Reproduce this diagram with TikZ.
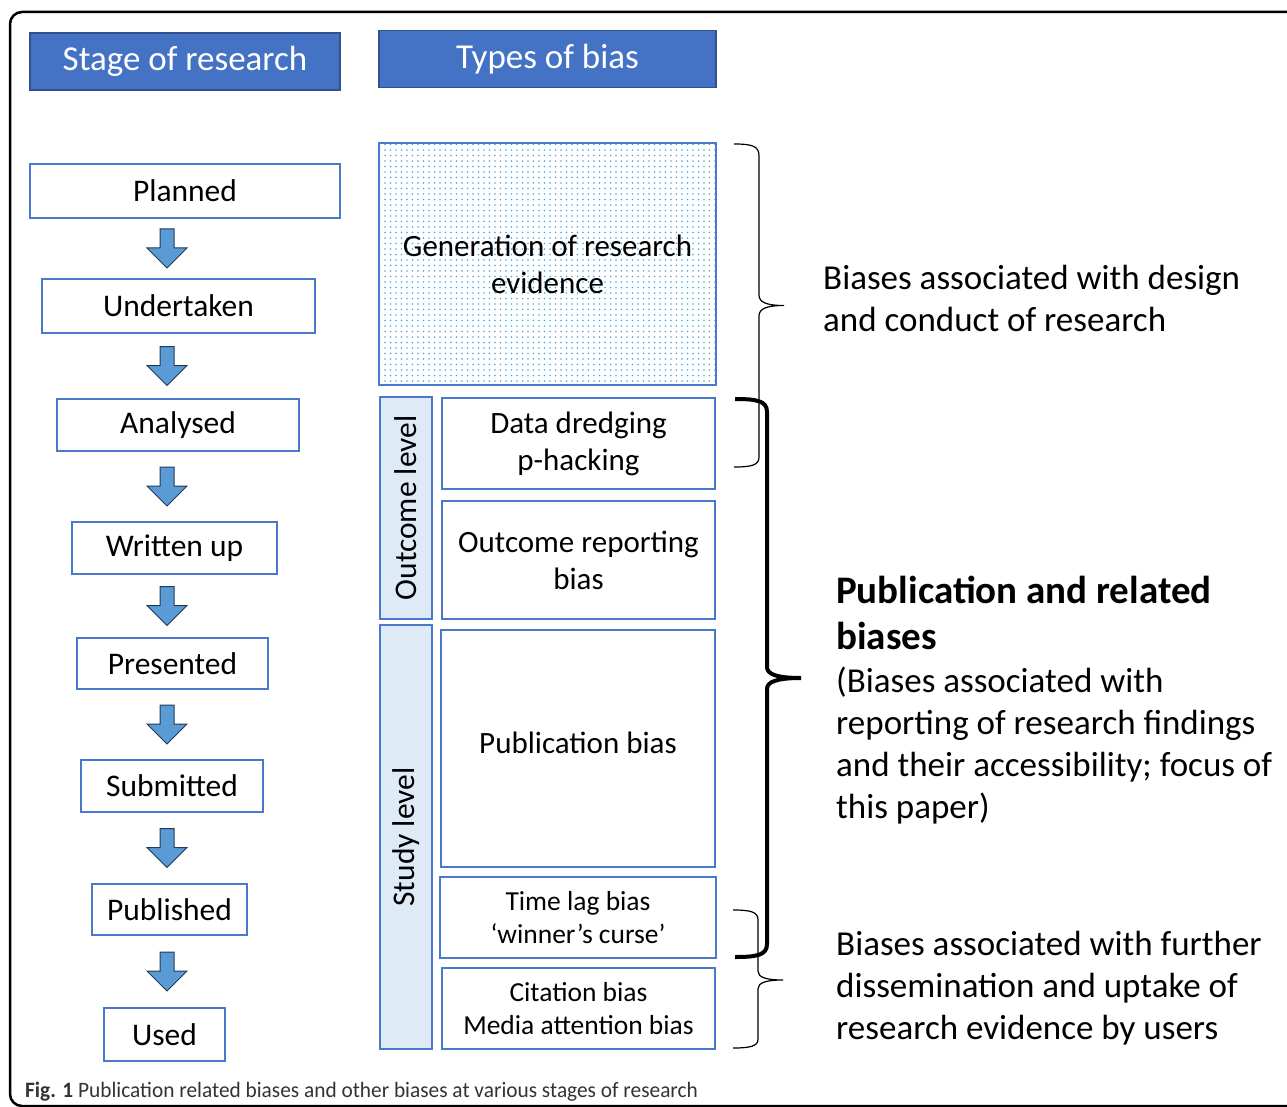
\documentclass[tikz,border=0pt]{standalone}
\usepackage{fontspec}
\setmainfont{Carlito}
\usetikzlibrary{patterns.meta,calc}
\definecolor{hdrfill}{HTML}{4472C4}
\definecolor{hdrborder}{HTML}{2F528F}
\definecolor{boxblue}{HTML}{4A78CC}
\definecolor{stripfill}{HTML}{DEEBF7}
\definecolor{arrfill}{HTML}{5B9BD5}
\definecolor{arrborder}{HTML}{233A55}
\definecolor{dotblue}{RGB}{70,170,230}
\definecolor{captext}{HTML}{333333}
\begin{document}
\begin{tikzpicture}[x=1pt,y=-1pt,
  wh/.style 2 args={minimum width=#1, minimum height=#2},
  hdr/.style={draw=hdrborder, line width=1.5pt, fill=hdrfill, text=white,
    font=\fontsize{35}{40}\selectfont, inner sep=0pt},
  stagebox/.style={draw=boxblue, line width=2pt, fill=white,
    font=\fontsize{31.5}{36}\selectfont, inner sep=0pt},
  biasbox/.style={draw=boxblue, line width=2pt, fill=white, align=center,
    font=\fontsize{31}{37}\selectfont, inner sep=0pt},
  smallbias/.style={biasbox, font=\fontsize{27.5}{33}\selectfont},
  strip/.style={draw=boxblue, line width=2pt, fill=stripfill, inner sep=0pt},
  striplabel/.style={rotate=90, font=\fontsize{31.5}{34}\selectfont, inner sep=0pt},
  dotted box/.style={draw=boxblue, line width=2pt,
    preaction={fill=white}, pattern={Dots[distance=5.5pt, radius=0.95pt]},
    pattern color=dotblue},
  arrowbody/.style={draw=arrborder, line width=1pt, fill=arrfill},
  thinbrace/.style={draw=black, line width=1.2pt},
  thickbrace/.style={draw=black, line width=4pt},
  rtext/.style={align=left, inner sep=0pt, anchor=north west,
    font=\fontsize{35}{42}\selectfont},
  downarr/.pic={\path[arrowbody] (-7,-19.5) -- (7,-19.5) -- (7,-0.5) -- (20,-0.5)
    -- (0,19.5) -- (-20,-0.5) -- (-7,-0.5) -- cycle;}
]
\useasboundingbox (0,0) rectangle (1287,1107);
\begin{scope}
\clip (0,0) rectangle (1287,1107);
\draw[line width=2.5pt, rounded corners=12pt] (1330,12) -- (10,12) -- (10,1106) -- (1330,1106);
\end{scope}

% headers
\node[hdr, wh={310}{57}] (h1) at (185,61.5) {Stage of research};
\node[hdr, wh={337}{57}] (h2) at (547.5,59) {Types of bias};

% stages
\node[stagebox, wh={310}{54}] (planned) at (185,191) {Planned};
\node[stagebox, wh={273}{54}] (undertaken) at (178.5,306) {Undertaken};
\node[stagebox, wh={242}{52}] (analysed) at (178,425) {Analysed};
\node[stagebox, wh={205}{52}] (written) at (174.5,548) {Written up};
\node[stagebox, wh={191}{51}] (presented) at (172.5,663.5) {Presented};
\node[stagebox, wh={182}{52}] (submitted) at (172,786) {Submitted};
\node[stagebox, wh={155}{51}] (published) at (169.5,909.5) {Published};
\node[stagebox, wh={121}{53}] (used) at (164.5,1034.5) {Used};

% block arrows between stages
\coordinate (ax) at (167,0);
\coordinate (m1) at ($(planned.south)!0.5!(undertaken.north)$);
\coordinate (m2) at ($(undertaken.south)!0.5!(analysed.north)$);
\coordinate (m3) at ($(analysed.south)!0.5!(written.north)$);
\coordinate (m4) at ($(written.south)!0.5!(presented.north)$);
\coordinate (m5) at ($(presented.south)!0.5!(submitted.north)$);
\coordinate (m6) at ($(submitted.south)!0.5!(published.north)$);
\coordinate (m7) at ($(published.south)!0.5!(used.north)$);
\foreach \m in {m1,m2,m3,m4,m5,m6,m7} {\pic at (ax |- \m) {downarr};}

% types of bias
\node[dotted box, wh={337}{242}, align=center, inner sep=0pt,
  font=\fontsize{31}{37}\selectfont] (gen) at (547.5,264) {Generation of research\\evidence};
\node[strip, wh={52}{222}] (outcome) at (406,508) {};
\node[striplabel] (outlab) at (outcome.center) {Outcome level};
\node[strip, wh={52}{424}] (study) at (406,837) {};
\node[striplabel] (studylab) at (study.center) {Study level};
\node[biasbox, wh={273}{91}] (dredge) at (578.5,443.5) {Data dredging\\p-hacking};
\node[biasbox, wh={273}{118}] (orb) at (578.5,560) {Outcome reporting\\bias};
\node[biasbox, wh={274}{237}] (pub) at (578,748.5) {\raisebox{12pt}{Publication bias}};
\node[smallbias, wh={276}{81}] (lag) at (578,917.5) {Time lag bias\\‘winner’s curse’};
\node[smallbias, wh={273}{81}] (cite) at (578.5,1008.5) {Citation bias\\Media attention bias};

% braces
\draw[thinbrace] (734,144) .. controls (752,144) and (759,146) .. (759,156)
  -- (759,295) .. controls (759,302) and (766,305.5) .. (784,305.5)
  .. controls (766,305.5) and (759,309) .. (759,316)
  -- (759,457) .. controls (759,465) and (752,467) .. (734,467);
\draw[thickbrace] (735,399) .. controls (757,399) and (767,401) .. (767,412)
  -- (767,667) .. controls (767,674) and (776,678) .. (801,678)
  .. controls (776,678) and (767,682) .. (767,689)
  -- (767,944) .. controls (767,955) and (757,957) .. (735,957);
\draw[thinbrace] (733,910) .. controls (751,910) and (758,912) .. (758,920)
  -- (758,971) .. controls (758,977) and (765,980) .. (783,980)
  .. controls (765,980) and (758,983) .. (758,989)
  -- (758,1039) .. controls (758,1046) and (751,1048) .. (733,1048);

% right texts
\node[rtext] (design) at (823,265) {Biases associated with design\\and conduct of research};
\node[rtext, font=\fontsize{39}{46}\selectfont\bfseries] (pubtitle) at (836,576) {Publication and related\\biases};
\node[rtext] (pubdesc) at (836,667) {(Biases associated with\\reporting of research findings\\and their accessibility; focus of\\this paper)};
\node[rtext] (dissem) at (836,931) {Biases associated with further\\dissemination and uptake of\\research evidence by users};

% caption
\node[anchor=base west, inner sep=0pt, text=captext] (caption) at (25,1097)
  {\scalebox{0.97}[1]{\fontsize{22}{26}\selectfont\textbf{Fig. 1} Publication related biases and other biases at various stages of research}};
\end{tikzpicture}
\end{document}
